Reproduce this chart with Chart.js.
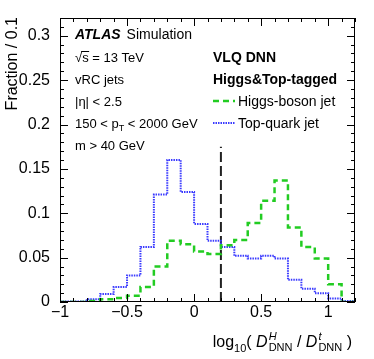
<!DOCTYPE html>
<html>
<head>
<meta charset="utf-8">
<script src="https://cdn.jsdelivr.net/npm/chart.js@4"></script>
<style>
  html, body { margin: 0; padding: 0; background: #fff; }
</style>
</head>
<body>
<canvas id="dnnChart" width="374" height="359"></canvas>
<script>
// Bin edges of the histograms (0.1 wide)
const binEdges = [-1.0, -0.9, -0.8, -0.7, -0.6, -0.5, -0.4, -0.3, -0.2, -0.1, 0.0,
                  0.1, 0.2, 0.3, 0.4, 0.5, 0.6, 0.7, 0.8, 0.9, 1.0, 1.1, 1.2];

// Fraction per bin
const higgsJet = [0.0, 0.0, 0.001, 0.003, 0.0045, 0.007, 0.017, 0.040, 0.069, 0.065, 0.057,
                  0.054, 0.064, 0.070, 0.089, 0.114, 0.137, 0.084, 0.062, 0.049, 0.020, 0.0];
const topJet   = [0.0005, 0.0005, 0.003, 0.009, 0.017, 0.030, 0.062, 0.121, 0.160, 0.124, 0.088,
                  0.069, 0.062, 0.052, 0.049, 0.052, 0.049, 0.025, 0.015, 0.010, 0.004, 0.001];

// Cut line
const cutX = [0.2, 0.2];
const cutY = [0, 0.175];

// Axis ticks with labels
const xTicks = [-1, -0.5, 0, 0.5, 1];
const yTicks = [0, 0.05, 0.1, 0.15, 0.2, 0.25, 0.3];

const FONT = '"Liberation Sans", Arial, Helvetica, sans-serif';
const GREEN = '#22cc22';
const BLUE = '#3a3aff';

function toSteps(values) {
    const pts = values.map((v, i) => ({ x: binEdges[i], y: v }));
    pts.push({ x: binEdges[binEdges.length - 1], y: values[values.length - 1] });
    return pts;
}

function fmt(v) {
    if (v === 0) return '0';
    const s = String(+v.toFixed(2));
    return s.replace('-', '\u2212');
}

// frame, inner ticks and the ATLAS texts
const atlasDecor = {
    id: 'atlasDecor',
    afterDraw(chart) {
        const { ctx, chartArea: a, scales: { x, y } } = chart;
        ctx.save();
        ctx.strokeStyle = '#000';
        ctx.lineWidth = 1;
        ctx.strokeRect(a.left + 0.5, a.top + 0.5, a.right - a.left - 1, a.bottom - a.top - 1);

        ctx.beginPath();
        for (let i = 0; i <= 22; i++) {
            const px = Math.round(x.getPixelForValue(-1 + i * 0.1)) + 0.5;
            const len = (i % 5 === 0) ? 8 : 4;
            ctx.moveTo(px, a.bottom); ctx.lineTo(px, a.bottom - len);
            ctx.moveTo(px, a.top); ctx.lineTo(px, a.top + len);
        }
        for (let i = 0; i <= 32; i++) {
            const py = Math.round(y.getPixelForValue(i * 0.01)) + 0.5;
            const len = (i % 5 === 0) ? 8 : 4;
            ctx.moveTo(a.left, py); ctx.lineTo(a.left + len, py);
            ctx.moveTo(a.right, py); ctx.lineTo(a.right - len, py);
        }
        ctx.stroke();

        ctx.fillStyle = '#000';
        ctx.textBaseline = 'alphabetic';

        // y axis title, right end at the top of the frame
        ctx.save();
        ctx.translate(17, 17);
        ctx.rotate(-Math.PI / 2);
        ctx.textAlign = 'right';
        ctx.font = '16px ' + FONT;
        ctx.fillText('Fraction / 0.1', 0, 0);
        ctx.restore();

        // left block of labels
        ctx.textAlign = 'left';
        const lx = 75;
        ctx.font = 'bold italic 14px ' + FONT;
        ctx.fillText('ATLAS', lx, 39);
        let w = ctx.measureText('ATLAS').width;
        ctx.font = '14px ' + FONT;
        ctx.fillText('Simulation', lx + w + 6, 39);

        ctx.font = '13px ' + FONT;
        const wr = ctx.measureText('\u221A').width;
        ctx.fillText('\u221A', lx, 62);
        ctx.fillText('s = 13 TeV', lx + wr, 62);
        const ws = ctx.measureText('s').width;
        ctx.beginPath();
        ctx.moveTo(lx + wr - 1, 51.5); ctx.lineTo(lx + wr + ws + 0.5, 51.5);
        ctx.stroke();

        ctx.fillText('vRC jets', lx, 84);
        ctx.fillText('|\u03B7| < 2.5', lx, 106);

        ctx.fillText('150 < p', lx, 128);
        w = ctx.measureText('150 < p').width;
        ctx.font = '9px ' + FONT;
        ctx.fillText('T', lx + w, 131);
        const wt = ctx.measureText('T').width;
        ctx.font = '13px ' + FONT;
        ctx.fillText(' < 2000 GeV', lx + w + wt, 128);
        ctx.fillText('m > 40 GeV', lx, 150);

        // right block + legend
        const rx = 213;
        ctx.font = 'bold 14px ' + FONT;
        ctx.fillText('VLQ DNN', rx, 62);
        ctx.fillText('Higgs&Top-tagged', rx, 84);

        const ds = chart.data.datasets;
        [[ds[0], 106], [ds[1], 128]].forEach(([d, base]) => {
            ctx.save();
            ctx.strokeStyle = d.borderColor;
            ctx.lineWidth = d.borderWidth;
            ctx.setLineDash(d.borderDash);
            ctx.beginPath();
            ctx.moveTo(rx, base - 5); ctx.lineTo(rx + 22, base - 5);
            ctx.stroke();
            ctx.restore();
            ctx.font = '14px ' + FONT;
            ctx.fillText(d.label, rx + 25, base);
        });

        // x axis title: log10( D^H_DNN / D^t_DNN )
        const big = '16px ' + FONT, bigIt = 'italic 16px ' + FONT;
        const small = '11px ' + FONT, smallIt = 'italic 11px ' + FONT;
        const parts = [
            { t: 'log', f: big },
            { t: '10', f: small, dy: 5 },
            { t: '( ', f: big },
            { t: 'D', f: bigIt, sup: 'H', sub: 'DNN' },
            { t: ' / ', f: big },
            { t: 'D', f: bigIt, sup: 't', sub: 'DNN' },
            { t: ' )', f: big }
        ];
        const widthOf = p => {
            ctx.font = p.f;
            let pw = ctx.measureText(p.t).width;
            if (p.sup) {
                ctx.font = smallIt; const a1 = ctx.measureText(p.sup).width;
                ctx.font = small; const a2 = ctx.measureText(p.sub).width;
                pw += Math.max(a1, a2) + 1;
            }
            return pw;
        };
        const total = parts.reduce((s, p) => s + widthOf(p), 0);
        let cx = 352 - total;
        const base = 347;
        parts.forEach(p => {
            ctx.font = p.f;
            ctx.fillText(p.t, cx, base + (p.dy || 0));
            const tw = ctx.measureText(p.t).width;
            if (p.sup) {
                ctx.font = smallIt;
                ctx.fillText(p.sup, cx + tw + 1, base - 7);
                ctx.font = small;
                ctx.fillText(p.sub, cx + tw + 1, base + 4);
            }
            cx += widthOf(p);
        });
        ctx.restore();
    }
};

const ctx = document.getElementById('dnnChart').getContext('2d');

const dnnChart = new Chart(ctx, {
    type: 'line',
    data: {
        datasets: [
            {
                label: 'Higgs-boson jet',
                data: toSteps(higgsJet),
                stepped: 'before',
                borderColor: GREEN,
                borderWidth: 2.5,
                borderDash: [6, 4],
                pointRadius: 0,
                fill: false
            },
            {
                label: 'Top-quark jet',
                data: toSteps(topJet),
                stepped: 'before',
                borderColor: BLUE,
                borderWidth: 2,
                borderDash: [1.5, 1],
                pointRadius: 0,
                fill: false
            },
            {
                label: 'cut',
                data: cutX.map((v, i) => ({ x: v, y: cutY[i] })),
                borderColor: '#222',
                borderWidth: 2,
                borderDash: [10, 4],
                pointRadius: 0,
                fill: false
            }
        ]
    },
    options: {
        responsive: false,
        animation: false,
        layout: { padding: { left: 0, right: 19, top: 18, bottom: 0 } },
        plugins: {
            legend: { display: false },
            tooltip: { enabled: false }
        },
        scales: {
            x: {
                type: 'linear',
                min: -1,
                max: 1.2,
                grid: { display: false },
                border: { display: false },
                afterBuildTicks: s => { s.ticks = xTicks.map(v => ({ value: v })); },
                afterFit: s => { s.height = 57; },
                ticks: {
                    color: '#000',
                    padding: -7,
                    maxRotation: 0,
                    font: { family: FONT, size: 16 },
                    callback: v => fmt(v)
                }
            },
            y: {
                min: 0,
                max: 0.32,
                grid: { display: false },
                border: { display: false },
                afterBuildTicks: s => { s.ticks = yTicks.map(v => ({ value: v })); },
                afterFit: s => { s.width = 60; },
                ticks: {
                    color: '#000',
                    padding: 2,
                    font: { family: FONT, size: 16 },
                    callback: v => fmt(v)
                }
            }
        }
    },
    plugins: [atlasDecor]
});
</script>
</body>
</html>
